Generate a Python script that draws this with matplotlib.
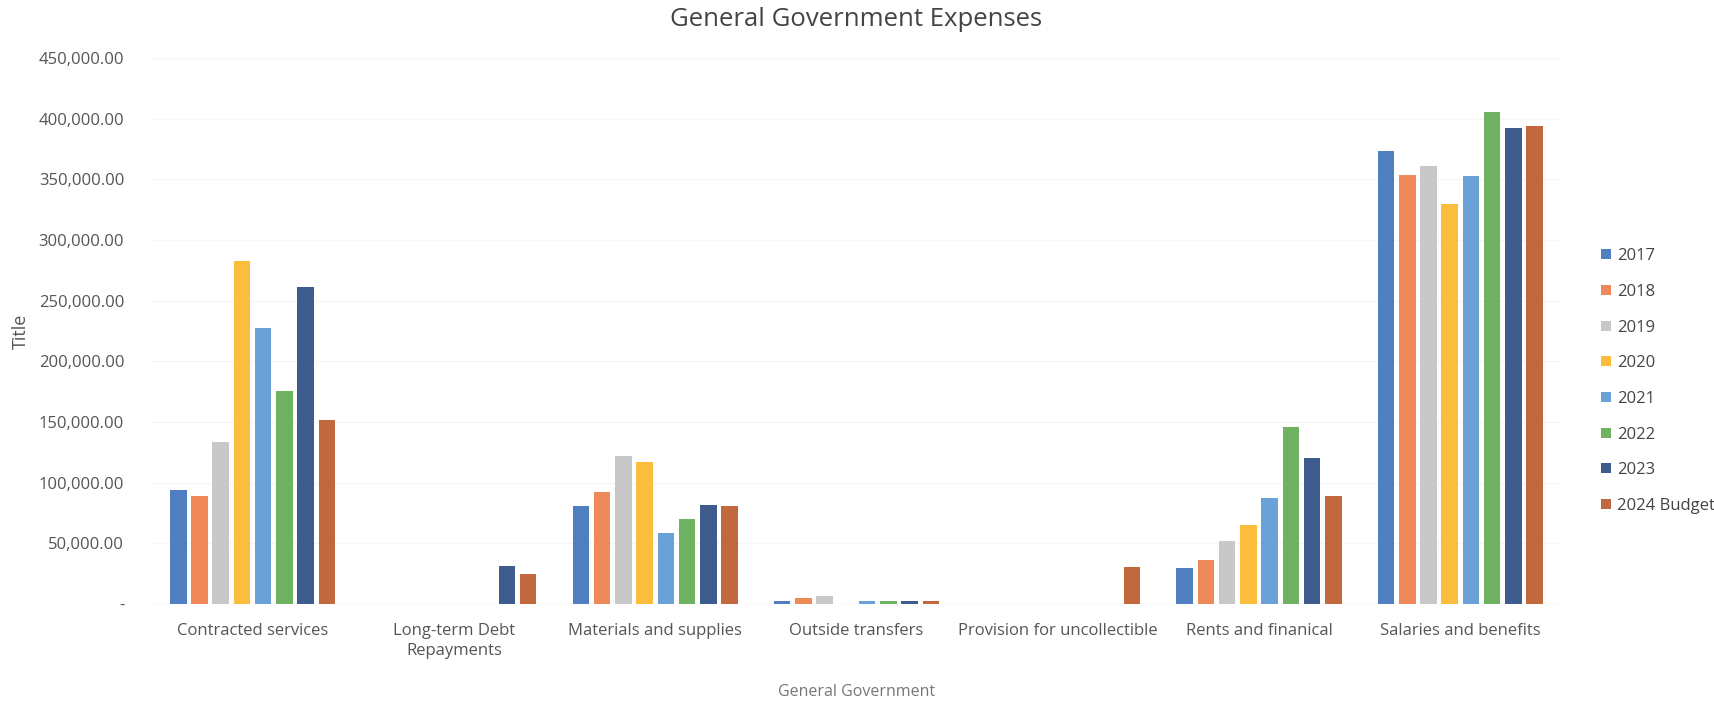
import matplotlib
matplotlib.use("Agg")
import matplotlib.pyplot as plt
import numpy as np

# Expense categories and yearly totals per category
categories = ["Contracted services", "Long-term Debt\nRepayments", "Materials and supplies",
              "Outside transfers", "Provision for uncollectible", "Rents and finanical",
              "Salaries and benefits"]
years = ["2017", "2018", "2019", "2020", "2021", "2022", "2023", "2024 Budget"]

y2017 = [93500, 0, 80500, 2000, 0, 29500, 373500]
y2018 = [88500, 0, 92000, 5000, 0, 36000, 353500]
y2019 = [133500, 0, 122000, 6000, 0, 51500, 361000]
y2020 = [283000, 0, 117000, 0, 0, 65000, 329500]
y2021 = [227500, 0, 58000, 2000, 0, 87000, 352500]
y2022 = [175500, 0, 70000, 2500, 0, 145500, 406000]
y2023 = [261000, 31500, 81500, 2000, 0, 120500, 392500]
y2024 = [151500, 24500, 80500, 2500, 30500, 89000, 394500]

series = [y2017, y2018, y2019, y2020, y2021, y2022, y2023, y2024]
colors = ["#4F7FC0", "#F0895A", "#C8C8C8", "#FBBD3B", "#6AA2D8", "#6FB262", "#3E5C8E", "#C2683F"]

plt.rcParams['font.family'] = ['Open Sans', 'DejaVu Sans']

fig = plt.figure(figsize=(17.15, 7.02), dpi=100)
ax = fig.add_axes([0.0886, 0.140, 0.8216, 0.777])

x = np.arange(len(categories))
slot = 0.1055
width = 0.082
for i, (vals, col, lab) in enumerate(zip(series, colors, years)):
    offs = (i - (len(series) - 1) / 2) * slot
    ax.bar(x + offs, vals, width=width, color=col, label=lab, zorder=3)

ax.set_xlim(-0.5, len(categories) - 0.5)
ax.set_ylim(0, 450000)
ticks = np.arange(0, 450001, 50000)
ax.set_yticks(ticks)
ax.set_yticklabels(["-"] + ["{:,.2f}".format(t) for t in ticks[1:]])
ax.set_xticks(x)
ax.set_xticklabels(categories, linespacing=1.3)
ax.tick_params(axis='both', length=0, labelsize=12, colors="#555555")
ax.tick_params(axis='x', pad=14)
ax.tick_params(axis='y', pad=20)

ax.grid(axis='y', color="#F5F5F5", linewidth=1, zorder=0)
for s in ax.spines.values():
    s.set_visible(False)
ax.axhline(0, color="#EEEEEE", linewidth=1, zorder=2)

ax.set_title("General Government Expenses", fontsize=18.5, color="#444444", pad=23)
ax.set_xlabel("General Government", fontsize=11.5, color="#777777", labelpad=18)
ax.set_ylabel("Title", fontsize=13, color="#555555", labelpad=6)

fig.legend(loc='center left', bbox_to_anchor=(0.925, 0.457), frameon=False,
           fontsize=12, labelcolor="#444444", handlelength=0.55, handleheight=0.55,
           handletextpad=0.4, labelspacing=1.18)

fig.savefig("out.png", dpi=100, facecolor="white")
